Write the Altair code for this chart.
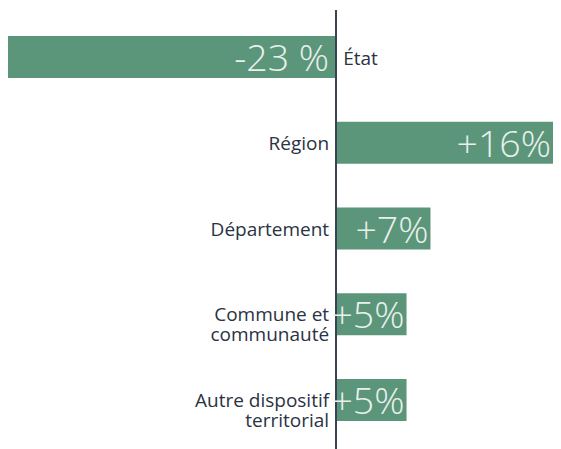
import altair as alt
import pandas as pd

categories = ["État", "Région", "Département", "Commune et\ncommunauté", "Autre dispositif\nterritorial"]
values = [-23.3, 15.4, 6.7, 5.0, 5.0]
value_labels = ["-23 %", "+16%", "+7%", "+5%", "+5%"]

df = pd.DataFrame({"cat": categories, "v": values, "lab": value_labels})
df["zero"] = 0.0

W, H = 545, 441
FONT = "Open Sans"

xscale = alt.Scale(domain=[-23.3, 15.4], nice=False, zero=False)
x = alt.X("v:Q", scale=xscale, axis=None)
x0 = alt.X("zero:Q", scale=xscale, axis=None)
y = alt.Y("cat:N", sort=categories,
          scale=alt.Scale(paddingInner=0.509, paddingOuter=0.327), axis=None)

base = alt.Chart(df)

bars = base.mark_bar(color="#5b967b").encode(x=x, x2="zero:Q", y=y)

axis_line = base.mark_rule(color="#3b4453", strokeWidth=1.6).encode(
    x=x0, y=alt.value(2), y2=alt.value(441)
)

cat_pos = base.transform_filter("datum.v >= 0").mark_text(
    align="right", baseline="middle", dx=-7, dy=1, font=FONT, fontSize=19,
    color="#2a3342", lineBreak="\n", lineHeight=20
).encode(x=x0, y=y, text="cat:N")

cat_neg = base.transform_filter("datum.v < 0").mark_text(
    align="left", baseline="middle", dx=7, dy=2, font=FONT, fontSize=19,
    color="#2a3342", lineBreak="\n", lineHeight=20
).encode(x=x0, y=y, text="cat:N")

val_pos = base.transform_filter("datum.v >= 0").mark_text(
    align="right", baseline="middle", dx=-2, dy=3, font=FONT, fontSize=37.5,
    fontWeight=300, color="#eaf0ec"
).encode(x=x, y=y, text="lab:N")

val_neg = base.transform_filter("datum.v < 0").mark_text(
    align="right", baseline="middle", dx=-7, dy=3, font=FONT, fontSize=37.5,
    fontWeight=300, color="#eaf0ec"
).encode(x=x0, y=y, text="lab:N")

chart = alt.layer(bars, axis_line, cat_pos, cat_neg, val_pos, val_neg).properties(
    width=W, height=H, padding=0
).configure_view(stroke=None)

chart.save("out.html", embed_options={"renderer": "svg", "actions": False})
